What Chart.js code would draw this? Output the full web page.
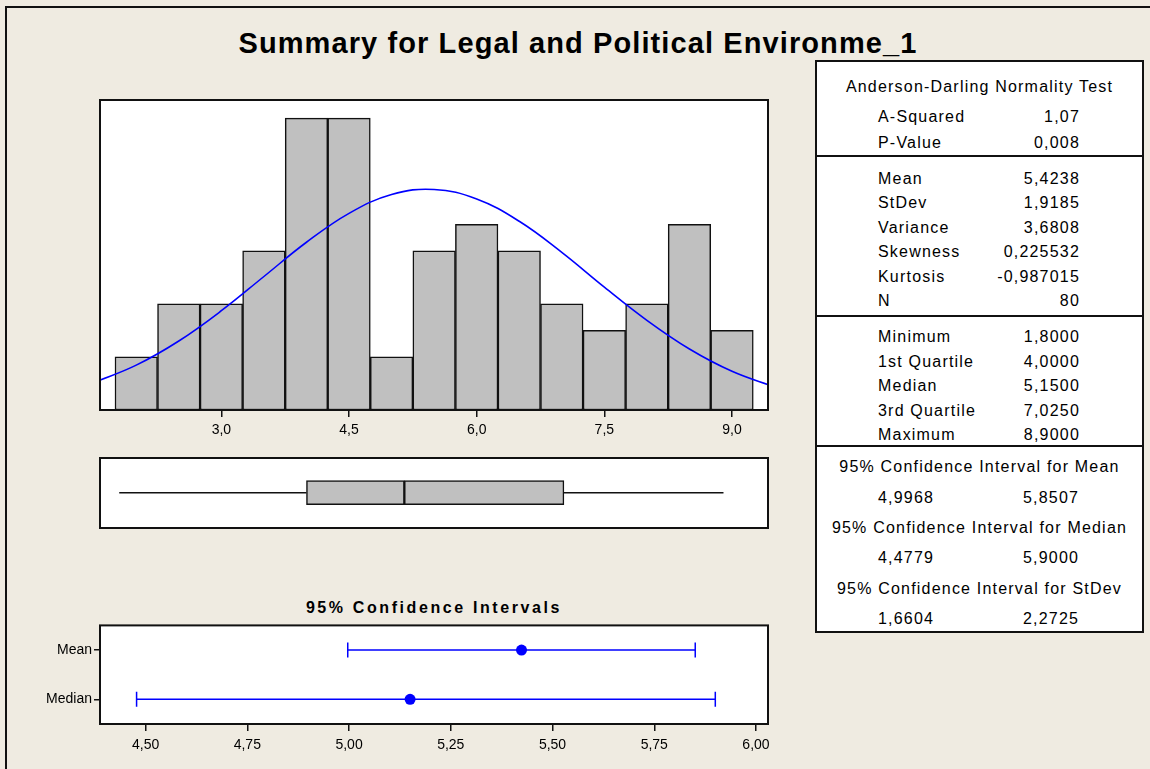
<!DOCTYPE html>
<html>
<head>
<meta charset="utf-8">
<script src="https://cdn.jsdelivr.net/npm/chart.js@4.4.1/dist/chart.umd.min.js"></script>
<style>
    body { margin: 0; background: #EFEBE1; }
    #wrap { position: relative; width: 1150px; height: 769px; overflow: hidden; background: #EFEBE1;
        font-family: "Liberation Sans", Arial, sans-serif; color: #000; }
    #frame { position: absolute; left: 5px; top: 6px; width: 1300px; height: 900px;
        border-left: 2px solid #111; border-top: 2px solid #111; }
    canvas { position: absolute; }
    .txt { position: absolute; white-space: nowrap; }
    #title { left: 128px; width: 900px; top: 25px; line-height: 36px; text-align: center;
        font-size: 29px; font-weight: bold; letter-spacing: 1.1px; }
    #ciTitle { left: 234px; width: 400px; top: 599px; line-height: 18px; text-align: center;
        font-size: 16px; font-weight: bold; letter-spacing: 2.6px; }
    #stats { position: absolute; left: 815px; top: 60px; width: 325px; height: 569px;
        background: #fff; border: 2px solid #111; }
    .sep { position: absolute; left: 0; width: 325px; height: 0; border-top: 2px solid #111; }
    .cell { position: absolute; white-space: nowrap; font-size: 16px; letter-spacing: 1.2px; line-height: 20px; }
</style>
</head>
<body>
<div id="wrap">
    <div id="frame"></div>
    <div id="title" class="txt"></div>
    <canvas id="histChart" width="690" height="360" style="left:90px;top:90px"></canvas>
    <canvas id="boxChart" width="690" height="85" style="left:90px;top:450px"></canvas>
    <div id="ciTitle" class="txt"></div>
    <canvas id="ciChart" width="760" height="144" style="left:20px;top:615px"></canvas>
    <div id="stats"></div>
</div>
<script>
const chartTitle = "Summary for Legal and Political Environme_1";
const ciChartTitle = "95% Confidence Intervals";

// histogram
const binCenters = [2.0, 2.5, 3.0, 3.5, 4.0, 4.5, 5.0, 5.5, 6.0, 6.5, 7.0, 7.5, 8.0, 8.5, 9.0];
const binCounts = [2, 4, 4, 6, 11, 11, 2, 6, 7, 6, 4, 3, 4, 7, 3];
const histTicks = [3.0, 4.5, 6.0, 7.5, 9.0];

// fitted normal curve
const curveX = [1.5, 2.0, 2.5, 3.0, 3.5, 4.0, 4.5, 5.0, 5.5, 6.0, 6.5, 7.0, 7.5, 8.0, 8.5, 9.0, 9.5];
const curveY = [1.03, 1.69, 2.60, 3.74, 5.03, 6.32, 7.41, 8.12, 8.31, 7.95, 7.11, 5.94, 4.63, 3.38, 2.30, 1.46, 0.87];

// boxplot: min, q1, median, q3, max
const boxStats = [1.8, 4.0, 5.15, 7.025, 8.9];

// confidence intervals
const ciRows = ["Mean", "Median"];
const ciLower = [4.9968, 4.4779];
const ciUpper = [5.8507, 5.9];
const ciEstimate = [5.4238, 5.15];
const ciTicks = [4.5, 4.75, 5.0, 5.25, 5.5, 5.75, 6.0];

// stats table
const adTitle = "Anderson-Darling Normality Test";
const adLabels = ["A-Squared", "P-Value"];
const adValues = ["1,07", "0,008"];
const momentLabels = ["Mean", "StDev", "Variance", "Skewness", "Kurtosis", "N"];
const momentValues = ["5,4238", "1,9185", "3,6808", "0,225532", "-0,987015", "80"];
const quantLabels = ["Minimum", "1st Quartile", "Median", "3rd Quartile", "Maximum"];
const quantValues = ["1,8000", "4,0000", "5,1500", "7,0250", "8,9000"];
const ciTableTitles = ["95% Confidence Interval for Mean", "95% Confidence Interval for Median", "95% Confidence Interval for StDev"];
const ciTableLow = ["4,9968", "4,4779", "1,6604"];
const ciTableHigh = ["5,8507", "5,9000", "2,2725"];

const FONT = "'Liberation Sans', Arial, sans-serif";
const BLUE = "#0000FF";

const fmt = (v, d) => Number(v).toFixed(d).replace(".", ",");

document.getElementById("title").textContent = chartTitle;
document.getElementById("ciTitle").textContent = ciChartTitle;

// white plot area + black frame
const plotFrame = {
    id: "plotFrame",
    beforeDraw(chart) {
        const { ctx, chartArea: a } = chart;
        ctx.save();
        ctx.fillStyle = "#fff";
        ctx.fillRect(a.left, a.top, a.width, a.height);
        ctx.restore();
    },
    afterDraw(chart) {
        const { ctx, chartArea: a } = chart;
        ctx.save();
        ctx.strokeStyle = "#111";
        ctx.lineWidth = 2;
        ctx.strokeRect(a.left, a.top, a.width, a.height);
        ctx.restore();
    }
};

Chart.defaults.font.family = FONT;
Chart.defaults.color = "#000";

const noExtras = { legend: { display: false }, tooltip: { enabled: false } };

// histogram + normal curve
new Chart("histChart", {
    type: "bar",
    data: {
        datasets: [{
            data: binCenters.map((c, i) => ({ x: c, y: binCounts[i] })),
            backgroundColor: "#C0C0C0",
            borderColor: "#111",
            borderWidth: 1.5,
            borderSkipped: false,
            barPercentage: 1,
            categoryPercentage: 1,
            order: 2
        }, {
            type: "line",
            data: curveX.map((x, i) => ({ x: x, y: curveY[i] })),
            borderColor: BLUE,
            borderWidth: 1.6,
            pointRadius: 0,
            tension: 0.4,
            order: 1
        }]
    },
    options: {
        responsive: false,
        animation: false,
        layout: { padding: { left: 10, right: 12, top: 10, bottom: 0 } },
        plugins: noExtras,
        scales: {
            x: {
                type: "linear",
                min: 1.574,
                max: 9.423,
                offset: false,
                afterBuildTicks: s => { s.ticks = histTicks.map(v => ({ value: v })); },
                afterFit: s => { s.height = 40; },
                grid: { display: true, offset: false, drawOnChartArea: false, drawTicks: true, tickLength: 7, color: "#111", lineWidth: 1.5 },
                border: { display: false },
                ticks: { font: { size: 14 }, padding: 5, maxRotation: 0, callback: v => fmt(v, 1) }
            },
            y: { display: false, min: 0, max: 11.68 }
        }
    },
    plugins: [plotFrame]
});

// boxplot
new Chart("boxChart", {
    type: "bar",
    data: {
        datasets: [{
            data: [
                { x: [boxStats[1], boxStats[2]], y: 0 },
                { x: [boxStats[2], boxStats[3]], y: 0 }
            ],
            backgroundColor: "#C0C0C0",
            borderColor: "#111",
            borderWidth: 1.5,
            borderSkipped: false,
            barThickness: 24
        }, {
            type: "line",
            data: [{ x: boxStats[0], y: 0 }, { x: boxStats[1], y: 0 }],
            borderColor: "#111",
            borderWidth: 1.5,
            pointRadius: 0
        }, {
            type: "line",
            data: [{ x: boxStats[3], y: 0 }, { x: boxStats[4], y: 0 }],
            borderColor: "#111",
            borderWidth: 1.5,
            pointRadius: 0
        }]
    },
    options: {
        indexAxis: "y",
        responsive: false,
        animation: false,
        layout: { padding: { left: 10, right: 12, top: 8, bottom: 7 } },
        plugins: noExtras,
        scales: {
            x: { type: "linear", display: false, min: 1.574, max: 9.423 },
            y: { type: "linear", display: false, min: -1.03, max: 1 }
        }
    },
    plugins: [plotFrame]
});

// confidence intervals
const ciSets = ciRows.map((r, i) => ({
    data: [{ x: ciLower[i], y: r }, { x: ciUpper[i], y: r }],
    borderColor: BLUE,
    borderWidth: 1.5,
    pointStyle: "line",
    pointRotation: 90,
    pointRadius: 7.5,
    pointBorderColor: BLUE,
    pointBorderWidth: 1.5
}));
ciSets.push({
    data: ciRows.map((r, i) => ({ x: ciEstimate[i], y: r })),
    showLine: false,
    pointStyle: "circle",
    pointRadius: 5.5,
    pointBackgroundColor: BLUE,
    pointBorderColor: BLUE,
    pointBorderWidth: 0
});

new Chart("ciChart", {
    type: "line",
    data: { datasets: ciSets },
    options: {
        responsive: false,
        animation: false,
        layout: { padding: { left: 0, right: 12, top: 8, bottom: 0 } },
        plugins: noExtras,
        scales: {
            x: {
                type: "linear",
                min: 4.388,
                max: 6.0295,
                afterBuildTicks: s => { s.ticks = ciTicks.map(v => ({ value: v })); },
                afterFit: s => { s.height = 35; },
                grid: { display: true, offset: false, drawOnChartArea: false, drawTicks: true, tickLength: 7, color: "#111", lineWidth: 1.5 },
                border: { display: false },
                ticks: { font: { size: 14 }, padding: 6, maxRotation: 0, callback: v => fmt(v, 2) }
            },
            y: {
                type: "category",
                labels: ciRows,
                offset: true,
                afterFit: s => { s.width = 80; },
                grid: { display: true, offset: false, drawOnChartArea: false, drawTicks: true, tickLength: 6, color: "#111", lineWidth: 1.5 },
                border: { display: false },
                ticks: { font: { size: 14 }, padding: 2 }
            }
        }
    },
    plugins: [plotFrame]
});

// stats table (coordinates relative to the box)
const stats = document.getElementById("stats");
const X0 = 817, Y0 = 62;

function cell(text, cx, cy, align) {
    const d = document.createElement("div");
    d.className = "cell";
    d.textContent = text;
    d.style.top = (cy - Y0 - 10) + "px";
    if (align === "center") {
        d.style.left = "0px";
        d.style.width = "325px";
        d.style.textAlign = "center";
    } else if (align === "right") {
        d.style.right = (X0 + 325 - cx) + "px";
    } else {
        d.style.left = (cx - X0) + "px";
    }
    stats.appendChild(d);
}

function sep(y) {
    const d = document.createElement("div");
    d.className = "sep";
    d.style.top = (y - Y0 - 1) + "px";
    stats.appendChild(d);
}

cell(adTitle, 0, 87, "center");
adLabels.forEach((l, i) => {
    cell(l, 878, 117 + i * 26, "left");
    cell(adValues[i], 1080, 117 + i * 26, "right");
});
sep(156);
momentLabels.forEach((l, i) => {
    cell(l, 878, 179 + i * 24.4, "left");
    cell(momentValues[i], 1080, 179 + i * 24.4, "right");
});
sep(316);
quantLabels.forEach((l, i) => {
    cell(l, 878, 337 + i * 24.6, "left");
    cell(quantValues[i], 1080, 337 + i * 24.6, "right");
});
sep(446);
ciTableTitles.forEach((t, i) => {
    const y = 467 + i * 60.8;
    cell(t, 0, y, "center");
    cell(ciTableLow[i], 878, y + 30.5, "left");
    cell(ciTableHigh[i], 1023, y + 30.5, "left");
});
</script>
</body>
</html>
